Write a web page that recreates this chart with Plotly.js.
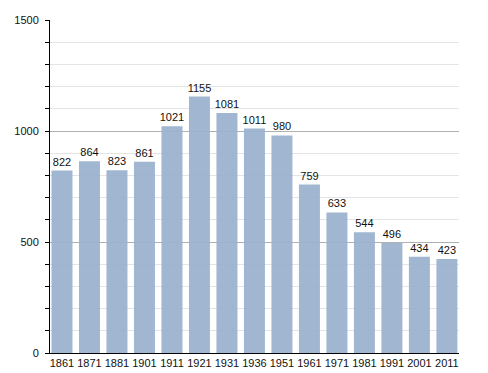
<!DOCTYPE html>
<html><head><meta charset="utf-8">
<script src="https://cdn.plot.ly/plotly-3.0.1.min.js"></script>
<style>html,body{margin:0;padding:0;background:#fff}#chart{width:488px;height:373px}</style>
</head><body><div id="chart"></div>
<script>
const years = ["1861","1871","1881","1901","1911","1921","1931","1936","1951","1961","1971","1981","1991","2001","2011"];
const population = [822,864,823,861,1021,1155,1081,1011,980,759,633,544,496,434,423];
const yTicks = [0,500,1000,1500];

const trace = {
  type: 'bar',
  x: years,
  y: population,
  text: population.map(String),
  textposition: 'outside',
  constraintext: 'none',
  cliponaxis: false,
  textfont: {family: 'Liberation Sans, Arial, sans-serif', size: 11, color: '#111'},
  marker: {color: '#9ab1cd', opacity: 0.93, line: {width: 0}},
  hoverinfo: 'none'
};

const layout = {
  width: 488, height: 373,
  margin: {l: 50, r: 29, t: 20, b: 20},
  paper_bgcolor: '#fff', plot_bgcolor: '#fff',
  bargap: 0.236,
  showlegend: false,
  uniformtext: {mode: false},
  font: {family: 'Liberation Sans, Arial, sans-serif', size: 11, color: '#111'},
  xaxis: {
    type: 'category',
    range: [-0.436, 14.44],
    showline: true, linecolor: '#000', linewidth: 1,
    ticks: '', showgrid: false, zeroline: false,
    tickfont: {size: 11, color: '#111'},
    fixedrange: true
  },
  yaxis: {
    range: [0, 1500],
    tickvals: yTicks,
    ticktext: yTicks.map(String),
    showline: true, linecolor: '#000', linewidth: 1,
    ticks: 'outside', ticklen: 4, tickcolor: '#000', tickwidth: 1,
    showgrid: true, gridcolor: '#b0b0b0', gridwidth: 1,
    zeroline: false,
    minor: {dtick: 100, ticks: 'outside', ticklen: 4, tickcolor: '#000', showgrid: true, gridcolor: '#e4e4e4', gridwidth: 1},
    tickfont: {size: 11, color: '#111'},
    ticklabelstandoff: 4,
    fixedrange: true
  }
};

Plotly.newPlot('chart', [trace], layout, {staticPlot: true, displayModeBar: false});
</script></body></html>
